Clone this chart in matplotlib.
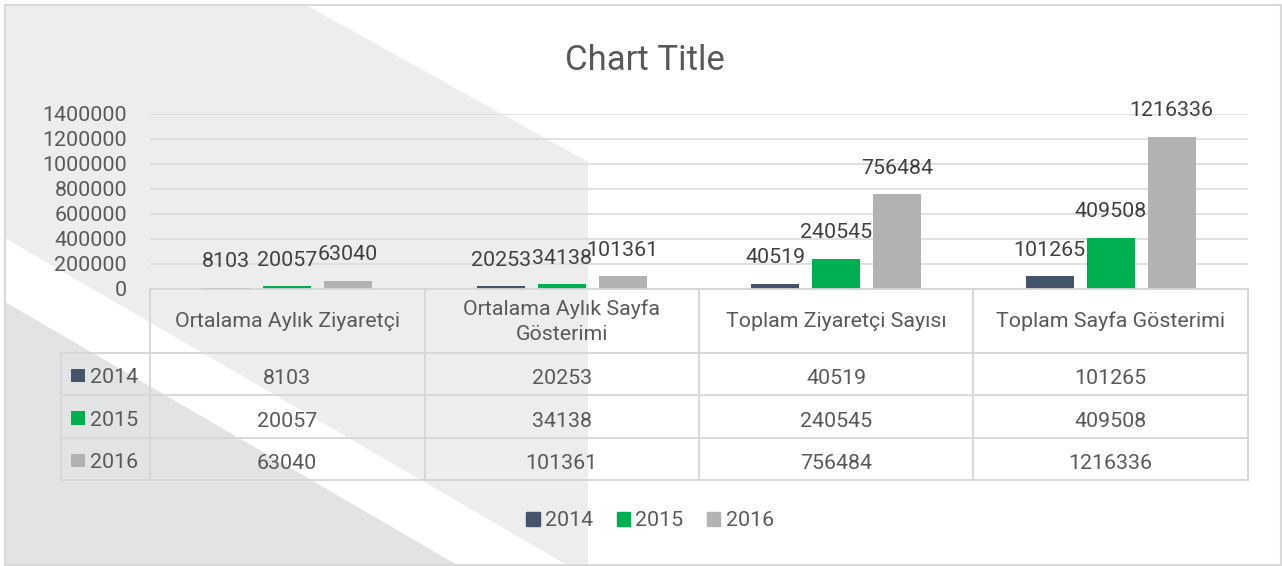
import numpy as np
import matplotlib.pyplot as plt
from matplotlib.patches import Polygon, Rectangle, Patch

plt.rcParams['font.family'] = ['Roboto', 'DejaVu Sans']

# data
categories = ["Ortalama Aylık Ziyaretçi", "Ortalama Aylık Sayfa\nGösterimi",
              "Toplam Ziyaretçi Sayısı", "Toplam Sayfa Gösterimi"]
years = ["2014", "2015", "2016"]
v2014 = [8103, 20253, 40519, 101265]
v2015 = [20057, 34138, 240545, 409508]
v2016 = [63040, 101361, 756484, 1216336]
yticks = list(range(0, 1400001, 200000))

series = [v2014, v2015, v2016]
colors = ["#44546a", "#00b050", "#b2b2b2"]
txt = "#595959"
fs = 15.4

W, H = 1282, 566
fig = plt.figure(figsize=(W / 100, H / 100), dpi=100)


def box(x0, y0, x1, y1):
    # pixel box (top-left origin) -> figure fraction
    return [x0 / W, 1 - y1 / H, (x1 - x0) / W, (y1 - y0) / H]


# --- background shapes ---
bg = fig.add_axes([0, 0, 1, 1], zorder=0)
bg.set_xlim(0, W)
bg.set_ylim(H, 0)
bg.axis("off")
bg.add_patch(Rectangle((5, 5), 1276, 560, fc="white", ec="none"))
bg.add_patch(Polygon([(5, 5), (306, 5), (588, 162), (588, 565), (5, 565)],
                     closed=True, fc="#ededed", ec="none"))
bg.add_patch(Polygon([(5, 238), (567, 565), (457, 565), (5, 302)],
                     closed=True, fc="white", ec="none"))
bg.add_patch(Polygon([(5, 302), (457, 565), (5, 565)],
                     closed=True, fc="#e2e3e5", ec="none"))
bg.add_patch(Rectangle((5, 5), 1276, 560, fill=False, ec="#d9d9d9", lw=1.5))

fig.text(644.5 / W, 1 - 70 / H, "Chart Title", ha="center", va="baseline",
         fontsize=25, color=txt)

# --- bars ---
ax = fig.add_axes(box(150, 113.7, 1248, 288.7), zorder=2)
ax.patch.set_alpha(0)
x = np.arange(len(categories))
for i, vals in enumerate(series):
    xs = x + (i - 1) * 0.222
    ax.bar(xs, vals, 0.175, color=colors[i], zorder=3)
    for xi, v in zip(xs, vals):
        ax.annotate(str(v), (xi, v), xytext=(0, 18.7), textcoords="offset points",
                    ha="center", va="center", fontsize=fs, color="#404040")

ax.set_xlim(-0.5, 3.5)
ax.set_ylim(0, 1400000)
ax.set_yticks(yticks)
ax.set_yticklabels([str(t) for t in yticks])
ax.set_xticks([])
ax.grid(axis="y", color="#dcdcdc", lw=1.2)
ax.set_axisbelow(True)
for s in ax.spines.values():
    s.set_visible(False)
ax.tick_params(length=0, pad=16.5, labelsize=fs, labelcolor=txt)

# --- data table ---
unit = (1248 - 150) / len(categories)
x_left = -0.5 - 89 / unit
tab_h = 480 - 288.7
tab = fig.add_axes(box(61, 288.7, 1248, 480), zorder=2)
tab.patch.set_alpha(0)
tab.set_xlim(x_left, 3.5)
tab.set_ylim(tab_h, 0)
tab.axis("off")

hdr = 64
rh = (tab_h - hdr) / len(years)
lc = "#d6d6d6"
for xe in np.arange(len(categories) + 1) - 0.5:
    tab.plot([xe, xe], [0, tab_h], color=lc, lw=1.3, clip_on=False)
tab.plot([x_left, x_left], [hdr, tab_h], color=lc, lw=1.3, clip_on=False)
tab.plot([-0.5, 3.5], [0, 0], color=lc, lw=1.3, clip_on=False)
for k in range(len(years) + 1):
    yy = hdr + k * rh
    tab.plot([x_left, 3.5], [yy, yy], color=lc, lw=1.3, clip_on=False)

for j, cat in enumerate(categories):
    tab.text(j, hdr / 2 + 1, cat, ha="center", va="center", fontsize=fs,
             color=txt, linespacing=1.4)

for i, (yr, vals) in enumerate(zip(years, series)):
    yc = hdr + rh * (i + 0.5)
    tab.add_patch(Rectangle((x_left + 10 / unit, yc - 5), 13.5 / unit, 13.5,
                            fc=colors[i], ec="none"))
    tab.text(x_left + 29 / unit, yc + 4, yr, ha="left", va="center",
             fontsize=fs, color=txt)
    for j, v in enumerate(vals):
        tab.text(j, yc + 5, str(v), ha="center", va="center", fontsize=fs,
                 color=txt)

# --- legend ---
handles = [Patch(color=c) for c in colors]
fig.legend(handles, years, loc="center", bbox_to_anchor=(650 / W, 1 - 521 / H),
           ncol=3, frameon=False, fontsize=fs, handlelength=0.62,
           handleheight=0.62, handletextpad=0.25, columnspacing=1.1,
           labelcolor=txt)

fig.savefig("out.png", dpi=100)
